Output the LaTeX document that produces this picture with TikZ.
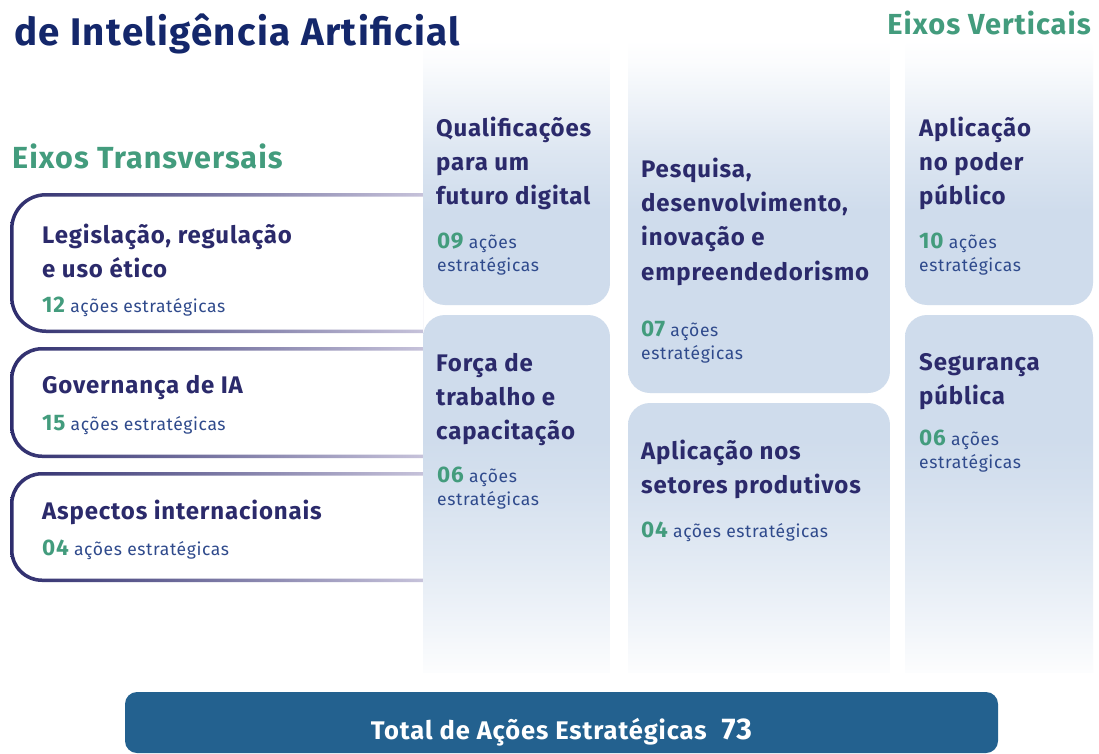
\documentclass[tikz,border=0pt]{standalone}
\usepackage{fontspec}
\setmainfont{Fira Sans}[LetterSpace=3.5]
\definecolor{navy}{HTML}{14276B}
\definecolor{ink}{HTML}{2B2A6B}
\definecolor{grn}{HTML}{439C7D}
\definecolor{acblue}{HTML}{2F4A8C}
\definecolor{lineL}{HTML}{2E2D6D}
\definecolor{lineR}{HTML}{C6C2DA}
\definecolor{colblue}{HTML}{CFDCEC}
\definecolor{barblue}{HTML}{23618F}
\pgfdeclareverticalshading{colfade}{100bp}{%
 color(0bp)=(colblue!6!white); color(25bp)=(colblue!6!white); color(28.3bp)=(colblue!28!white);
 color(33.9bp)=(colblue!60!white); color(40.2bp)=(colblue!90!white);
 color(43.4bp)=(colblue); color(61.5bp)=(colblue);
 color(66.3bp)=(colblue!70!white); color(70.2bp)=(colblue!35!white);
 color(73.4bp)=(colblue!8!white); color(75bp)=(white); color(100bp)=(white)}
\tikzset{
 ttl/.style={font=\fontsize{24}{34}\selectfont\bfseries, text=ink, anchor=base west, inner sep=0pt},
 cnt/.style={font=\fontsize{17.5}{23}\selectfont, text=acblue, anchor=base west, inner sep=0pt},
 axis/.style={font=\fontsize{29}{30}\selectfont\bfseries, text=grn, inner sep=0pt},
}
\newcommand{\nm}[1]{{\color{grn}\fontsize{22.5}{23}\selectfont\bfseries #1}}
\newcommand{\vl}[1]{\vtop{\halign{##\hfil\cr#1\crcr}}}
\newcommand{\colbox}[4]{% x1 x2 ytop ybottom
 \begin{scope}
  \clip[rounded corners=22pt] (#1,#3) rectangle (#2,#4);
  \shade[shading=colfade] (#1,40) rectangle (#2,672);
 \end{scope}}
\newcommand{\tbox}[3]{% top bottom radius
 \shade[left color=lineL, right color=lineR, even odd rule]
  (423,#1) -- ({10+#3},#1) arc[start angle=270,end angle=180,radius=#3]
  -- (10,{#2-#3}) arc[start angle=180,end angle=90,radius=#3] -- (423,#2) -- cycle
  (423,{#1+3.5}) -- ({10+#3},{#1+3.5}) arc[start angle=270,end angle=180,radius={#3-3.5}]
  -- (13.5,{#2-#3}) arc[start angle=180,end angle=90,radius={#3-3.5}] -- (423,{#2-3.5}) -- cycle;}
\begin{document}
\begin{tikzpicture}[x=1pt,y=-1pt]
\useasboundingbox[fill=white] (0,0) rectangle (1099,754);
% transversal boxes
\tbox{193}{333}{36}
\tbox{347}{458}{32}
\tbox{472}{582}{32}
% column boxes
\colbox{423}{610}{20}{305}
\colbox{423}{610}{315}{720}
\colbox{628}{890}{20}{393}
\colbox{628}{890}{403}{720}
\colbox{905}{1093}{30}{305}
\colbox{905}{1093}{315}{720}
% titles
\node[anchor=base west, inner sep=0pt, text=navy, font=\fontsize{38.5}{40}\selectfont\bfseries] (title) at (14,46) {de Inteligência Artificial};
\node[axis, anchor=base east] (ev) at (1091,35) {Eixos Verticais};
\node[axis, anchor=base west, font=\fontsize{30.5}{32}\selectfont\bfseries] (et) at (12,168) {Eixos Transversais};
% left boxes
\node[ttl] (t1) at (42,243) {\vl{Legislação, regulação\cr e uso ético}};
\node[cnt] (c1) at (42,312) {\nm{12} ações estratégicas};
\node[ttl] (t2) at (42,393) {Governança de IA};
\node[cnt] (c2) at (42,430) {\nm{15} ações estratégicas};
\node[ttl] (t3) at (42,519) {Aspectos internacionais};
\node[cnt] (c3) at (42,555) {\nm{04} ações estratégicas};
% column 1
\node[ttl] (q1) at (436,137) {\vl{Qualificações\cr para um\cr futuro digital}};
\node[cnt] (qc) at (437,248) {\vl{\nm{09} ações\cr estratégicas}};
\node[ttl] (f1) at (436,371) {\vl{Força de\cr trabalho e\cr capacitação}};
\node[cnt] (fc) at (437,482) {\vl{\nm{06} ações\cr estratégicas}};
% column 2
\node[ttl] (p1) at (641,178) {\vl{Pesquisa,\cr desenvolvimento,\cr inovação e\cr empreendedorismo}};
\node[cnt] (pc) at (641,336) {\vl{\nm{07} ações\cr estratégicas}};
\node[ttl] (a1) at (641,459) {\vl{Aplicação nos\cr setores produtivos}};
\node[cnt] (ac) at (641,537) {\nm{04} ações estratégicas};
% column 3
\node[ttl] (ap1) at (919,137) {\vl{Aplicação\cr no poder\cr público}};
\node[cnt] (apc) at (919,248) {\vl{\nm{10} ações\cr estratégicas}};
\node[ttl] (s1) at (919,370) {\vl{Segurança\cr pública}};
\node[cnt] (sc) at (919,445) {\vl{\nm{06} ações\cr estratégicas}};
% total bar
\node[fill=barblue, rounded corners=12pt, minimum width=873pt, minimum height=61pt, inner sep=0pt] (bar) at (561.5,722.5) {};
\node[anchor=base, inner sep=0pt, text=white, font=\bfseries] (total) at (561.5,739)
 {\fontsize{25.5}{27}\selectfont Total de Ações Estratégicas\hspace{15pt}\fontsize{30}{31}\selectfont 73};
\end{tikzpicture}
\end{document}
